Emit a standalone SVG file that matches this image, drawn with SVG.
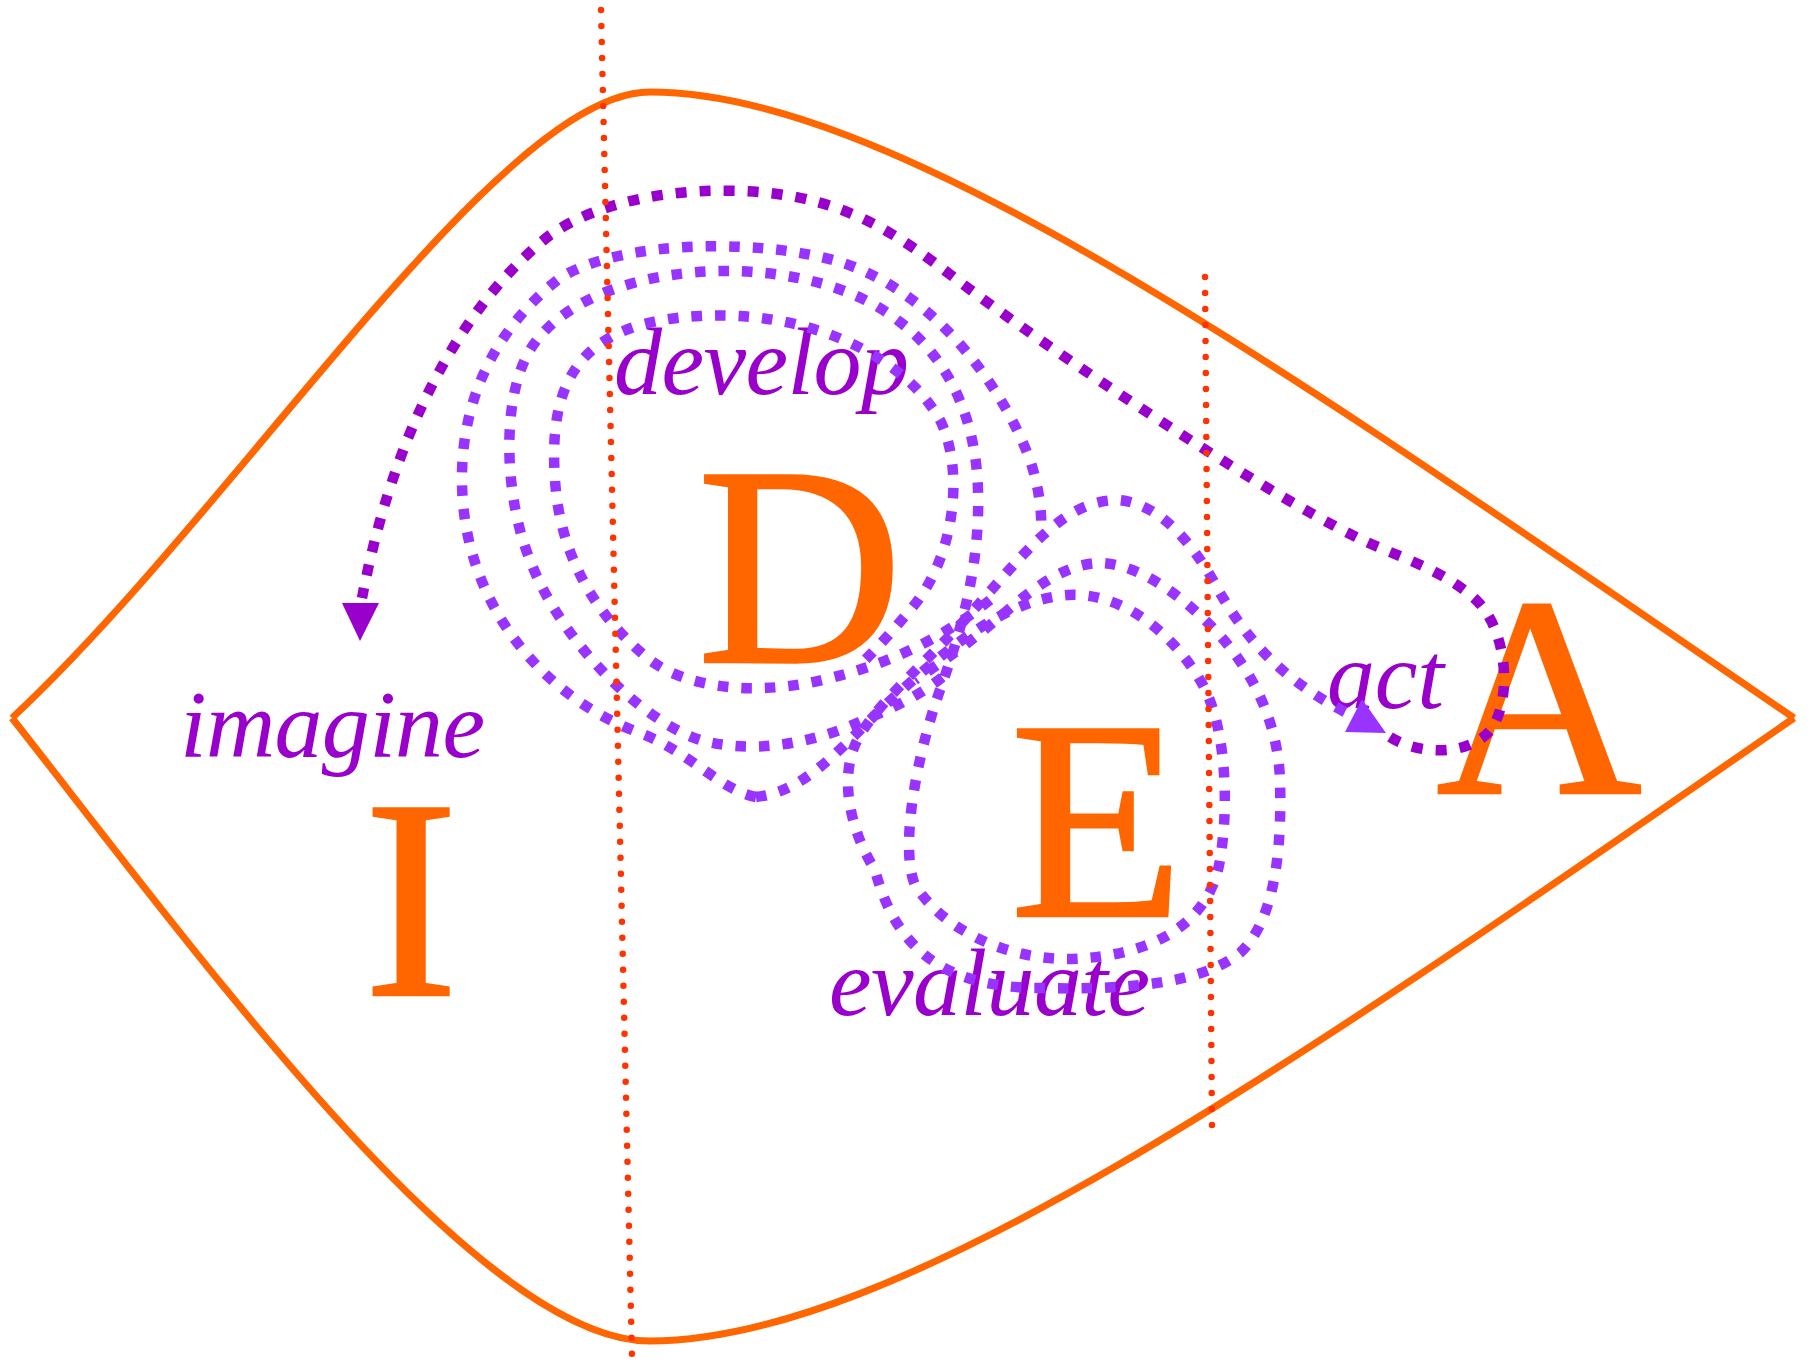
<svg xmlns="http://www.w3.org/2000/svg" width="1809" height="1362" viewBox="0 0 1809 1362">
<style>
.lens{fill:none;stroke:#ff6600;stroke-width:7;stroke-linejoin:round}
.guide{fill:none;stroke:#ff3300;stroke-width:6.5;stroke-linecap:round;stroke-dasharray:0 16}
.big{fill:none;stroke:#9900cc;stroke-width:10.5;stroke-dasharray:11 13}
.loop{fill:none;stroke:#9933ff;stroke-width:10.5;stroke-dasharray:10.5 13}
.letter{font-family:"Liberation Serif","Times New Roman",serif;font-size:285px;fill:#ff6600;stroke:#ff6600;stroke-width:2.5;text-anchor:middle}
.label{font-family:"Liberation Serif","Times New Roman",serif;font-style:italic;font-size:96px;fill:#9900cc}
</style>
<rect width="1809" height="1362" fill="#ffffff"/>
<g id="outline">
<path class="lens" d="M12,718 C240,505 500,92 650,92 C900,92 1300,380 1794,718"/>
<path class="lens" d="M12,718 C210,970 480,1341 650,1341 C900,1341 1300,1060 1794,718"/>
</g>
<g id="node-I">
<text class="letter" x="411" y="995">I</text>
<text class="label" x="180" y="757" textLength="305" lengthAdjust="spacing">imagine</text>
</g>
<g id="node-D">
<text class="letter" x="800" y="662">D</text>
<text class="label" x="614" y="394" textLength="295" lengthAdjust="spacing">develop</text>
</g>
<g id="node-E">
<text class="letter" x="1097" y="916">E</text>
<text class="label" x="829" y="1015" textLength="321" lengthAdjust="spacing">evaluate</text>
</g>
<g id="node-A">
<text class="letter" x="1539" y="793">A</text>
<text class="label" x="1327" y="708" textLength="117" lengthAdjust="spacing">act</text>
</g>
<g id="connectors">
<path class="big" d="M1390,737 C1420,756 1472,756 1492,728 C1512,698 1508,628 1474,598 C1440,568 1395,556 1358,538 C1250,485 1050,350 960,282 C900,236 850,200 760,192 C680,186 600,200 550,235 C480,290 400,400 362,598"/>
<polygon points="342,603 379,603 360,641" fill="#9900cc"/>
<path class="loop" d="M756,797 C720,790 690,752 640,733 C550,700 480,620 465,520 C452,430 480,340 560,278 C620,240 760,238 840,262 C930,290 1000,380 1030,460 C1040,490 1042,515 1041,532"/>
<path class="loop" d="M1345,712 C1275,675 1245,635 1220,593 C1195,545 1160,503 1118,500 C1060,500 1020,560 960,625 C920,668 870,710 855,745 C840,780 850,830 875,870 C895,945 940,988 1040,988 C1120,990 1200,985 1240,953 C1275,920 1282,850 1280,780 C1278,720 1250,665 1210,625 C1180,595 1140,565 1102,563 C1060,562 1020,600 990,625 C960,650 930,670 915,680"/>
<polygon points="1362,699 1345,732 1386,733" fill="#9933ff"/>
<path class="loop" d="M990,600 C950,632 900,662 822,680 C760,695 690,690 650,660 C600,620 560,560 555,480 C548,380 580,322 700,316 C800,310 900,350 940,420 C965,470 955,560 910,610 C895,628 880,645 865,660"/>
<path class="loop" d="M756,797 C800,792 830,760 880,710 C940,655 1000,600 1068,595 C1120,592 1170,630 1200,680 C1225,720 1230,800 1220,860 C1210,920 1160,955 1072,959 C1000,960 940,925 915,885 C900,850 915,760 940,690 C965,620 980,560 978,490 C976,420 950,360 900,322 C850,282 780,272 732,271 C640,270 560,300 530,350 C500,400 505,500 530,560 C560,640 640,720 700,740 C760,756 820,740 862,721 C900,705 930,690 950,670"/>
</g>
<g id="guides">
<path class="guide" d="M601,10 L632,1358"/>
<path class="guide" d="M1205,277 L1212,1127"/>
</g>
</svg>
